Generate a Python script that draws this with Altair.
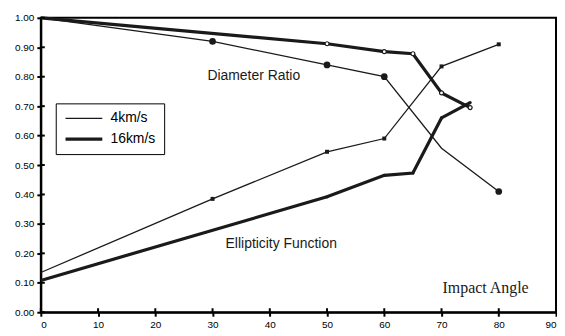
import altair as alt
import pandas as pd

# ---- data ----
angle_d4 = [0, 30, 50, 60, 70, 80]
diam_4 = [1.00, 0.92, 0.84, 0.80, 0.557, 0.41]
angle_d16 = [0, 50, 60, 65, 70, 75]
diam_16 = [1.00, 0.912, 0.885, 0.878, 0.745, 0.695]
angle_e4 = [0, 30, 50, 60, 70, 80]
ell_4 = [0.135, 0.385, 0.545, 0.59, 0.835, 0.91]
angle_e16 = [0, 50, 60, 65, 70, 75]
ell_16 = [0.108, 0.392, 0.465, 0.473, 0.66, 0.712]

speeds = ["4km/s", "16km/s"]
x_ticks = [0, 10, 20, 30, 40, 50, 60, 70, 80, 90]
y_ticks = [0.0, 0.1, 0.2, 0.3, 0.4, 0.5, 0.6, 0.7, 0.8, 0.9, 1.0]

ann_sans = ["Diameter Ratio", "Ellipticity Function"]
ann_sans_x = [37.2, 42.0]
ann_sans_y = [0.804, 0.23]
ann_serif = ["Impact Angle"]
ann_serif_x = [77.7]
ann_serif_y = [0.081]

rows = []
for kind, sp, xs, ys in [
    ("D", "4km/s", angle_d4, diam_4),
    ("D", "16km/s", angle_d16, diam_16),
    ("E", "4km/s", angle_e4, ell_4),
    ("E", "16km/s", angle_e16, ell_16),
]:
    for a, v in zip(xs, ys):
        rows.append({"kind": kind, "speed": sp, "series": kind + sp, "angle": a, "value": v})
df = pd.DataFrame(rows)

W, H = 518, 296
xs = alt.Scale(domain=[0, 90], nice=False)
ys = alt.Scale(domain=[0, 1], nice=False)
x_axis = alt.Axis(values=x_ticks, title=None, grid=False, labelOverlap=False)
y_axis = alt.Axis(values=y_ticks, format=".2f", title=None, grid=False, labelOverlap=False)

def X(f):
    return alt.X(f, scale=xs, axis=x_axis)

def Y(f):
    return alt.Y(f, scale=ys, axis=y_axis)

base = alt.Chart(df)

lines = base.mark_line(color="#1a1a1a").encode(
    x=X("angle:Q"),
    y=Y("value:Q"),
    strokeWidth=alt.StrokeWidth(
        "speed:O",
        scale=alt.Scale(domain=speeds, range=[1.3, 3.2]),
        sort=speeds,
        legend=alt.Legend(
            title=None, orient="none", legendX=15, legendY=86,
            symbolType="M-1,0H5", symbolSize=152, symbolStrokeColor="#1a1a1a",
            labelFont="Liberation Sans", labelFontSize=14, labelColor="black",
            labelOffset=31, padding=8, rowPadding=6,
            strokeColor="black", fillColor="white",
        ),
    ),
    detail="series:N",
)

def pts(kind, sp, shape, size, filled, skip=-1):
    return base.transform_filter(
        (alt.datum.kind == kind) & (alt.datum.speed == sp) & (alt.datum.angle > 0)
        & (alt.datum.angle != skip)
    ).mark_point(
        shape=shape, size=size, filled=filled,
        color="#1a1a1a", fill="#1a1a1a" if filled else "white",
        strokeWidth=1.2, opacity=1,
    ).encode(x=X("angle:Q"), y=Y("value:Q"))

p1 = pts("D", "4km/s", "circle", 45, True, skip=70)
p2 = pts("D", "16km/s", "circle", 16, False)
p3 = pts("E", "4km/s", "square", 16, True)
p4 = pts("E", "16km/s", "circle", 10, True)

xt = alt.Chart(pd.DataFrame({"t": x_ticks})).mark_rule(color="black", strokeWidth=2).encode(
    x=X("t:Q"), y=alt.value(H - 4), y2=alt.value(H))
yt = alt.Chart(pd.DataFrame({"t": y_ticks})).mark_rule(color="black", strokeWidth=2).encode(
    y=Y("t:Q"), x=alt.value(0), x2=alt.value(4))

t1 = alt.Chart(pd.DataFrame({"t": ann_sans, "x": ann_sans_x, "y": ann_sans_y})).mark_text(
    font="Liberation Sans", fontSize=14, color="#1a1a1a").encode(
    x=X("x:Q"), y=Y("y:Q"), text="t:N")
t2 = alt.Chart(pd.DataFrame({"t": ann_serif, "x": ann_serif_x, "y": ann_serif_y})).mark_text(
    font="Liberation Serif", fontSize=16, color="#1a1a1a").encode(
    x=X("x:Q"), y=Y("y:Q"), text="t:N")

chart = alt.layer(lines, p1, p2, p3, p4, xt, yt, t1, t2).properties(
    width=W, height=H,
    padding={"left": 6, "top": 2, "right": 0, "bottom": 2},
    background="white",
).configure_view(
    stroke="black", strokeWidth=2
).configure_axis(
    labelFont="Liberation Sans", labelFontSize=10, labelColor="black",
    domainColor="black", domainWidth=2, tickColor="black", tickWidth=2,
    tickSize=4, labelPadding=3,
)

chart.save("out.html", embed_options={"renderer": "svg", "actions": False})
